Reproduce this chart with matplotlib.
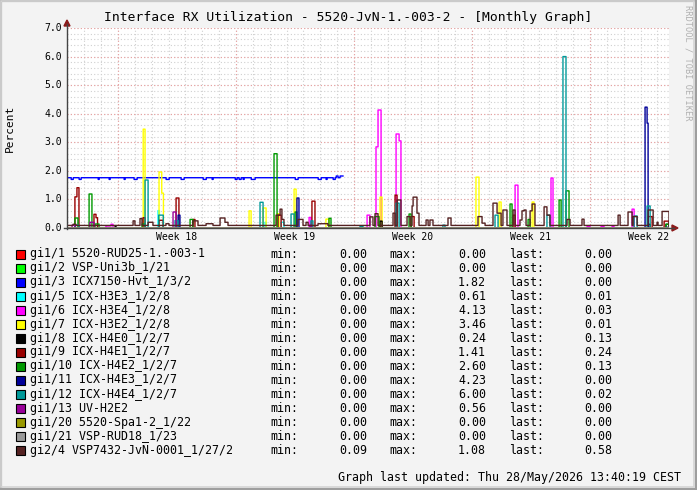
import numpy as np
import matplotlib
matplotlib.use('Agg')
from matplotlib import pyplot as plt
from matplotlib.patches import Rectangle, Polygon

W, H = 697, 490
MONO = 'DejaVu Sans Mono'

# time axis: days counted from the left edge of the graph
t_end = 35.71
week_starts = [3.025, 10.025, 17.025, 24.025, 31.025]
week_names = ['Week 18', 'Week 19', 'Week 20', 'Week 21', 'Week 22']
y_ticks = [0, 1, 2, 3, 4, 5, 6, 7]

names = ['gi1/1 5520-RUD25-1.-003-1', 'gi1/2 VSP-Uni3b_1/21', 'gi1/3 ICX7150-Hvt_1/3/2',
         'gi1/5 ICX-H3E3_1/2/8', 'gi1/6 ICX-H3E4_1/2/8', 'gi1/7 ICX-H3E2_1/2/8',
         'gi1/8 ICX-H4E0_1/2/7', 'gi1/9 ICX-H4E1_1/2/7', 'gi1/10 ICX-H4E2_1/2/7',
         'gi1/11 ICX-H4E3_1/2/7', 'gi1/12 ICX-H4E4_1/2/7', 'gi1/13 UV-H2E2',
         'gi1/20 5520-Spa1-2_1/22', 'gi1/21 VSP-RUD18_1/23', 'gi2/4 VSP7432-JvN-0001_1/27/2']
colors = ['#ff0000', '#00ff00', '#0000ff', '#00ffff', '#ff00ff', '#ffff00', '#000000', '#990000',
          '#009900', '#000099', '#009999', '#990099', '#999900', '#999999', '#552222']
mins = [0.00, 0.00, 0.00, 0.00, 0.00, 0.00, 0.00, 0.00, 0.00, 0.00, 0.00, 0.00, 0.00, 0.00, 0.09]
maxs = [0.00, 0.00, 1.82, 0.61, 4.13, 3.46, 0.24, 1.41, 2.60, 4.23, 6.00, 0.56, 0.00, 0.00, 1.08]
lasts = [0.00, 0.00, 0.00, 0.01, 0.03, 0.01, 0.13, 0.24, 0.13, 0.00, 0.02, 0.00, 0.00, 0.00, 0.58]

# each series: (from_day, to_day, percent) segments over a base level
gi1_1 = []
gi1_2 = []
gi1_3 = [(0.24, 0.36, 1.70), (0.71, 0.83, 1.70), (1.84, 1.90, 1.70), (2.49, 2.55, 1.70),
         (3.38, 3.44, 1.70), (3.97, 4.15, 1.70), (5.87, 6.05, 1.70), (6.76, 6.94, 1.70),
         (8.07, 8.25, 1.70), (8.60, 8.66, 1.70), (9.97, 10.08, 1.70), (10.20, 10.32, 1.70),
         (10.44, 10.50, 1.70), (10.92, 11.15, 1.70), (13.53, 13.70, 1.70), (14.89, 15.07, 1.70),
         (15.36, 15.42, 1.70), (15.78, 15.90, 1.70), (15.96, 16.07, 1.82), (16.19, 16.37, 1.82)]
gi1_5 = [(5.40, 5.48, 0.61), (11.75, 11.81, 0.20), (12.70, 12.87, 0.20), (35.53, 35.71, 0.01)]
gi1_6 = [(2.31, 2.61, 0.07), (2.61, 2.73, 0.13), (14.36, 14.47, 0.37), (17.80, 17.97, 0.45),
         (18.33, 18.45, 2.84), (18.45, 18.63, 4.13), (19.52, 19.70, 3.29), (19.70, 19.81, 3.05),
         (26.58, 26.75, 1.50), (28.71, 28.83, 1.75), (30.85, 31.03, 0.05), (31.68, 31.86, 0.05),
         (32.33, 32.45, 0.05), (33.52, 33.64, 0.66), (35.53, 35.71, 0.03)]
gi1_7 = [(4.52, 4.63, 3.46), (5.46, 5.62, 1.96), (5.62, 5.72, 1.22), (10.80, 10.92, 0.60),
         (11.63, 11.81, 0.70), (12.46, 12.58, 0.50), (13.47, 13.59, 1.36), (15.36, 15.54, 0.31),
         (18.57, 18.69, 1.08), (24.26, 24.44, 1.78), (25.63, 25.75, 0.91), (27.59, 27.70, 0.91),
         (35.53, 35.71, 0.01)]
gi1_8 = [(2.85, 2.91, 0.05), (18.57, 18.69, 0.24), (34.47, 34.59, 0.13), (35.53, 35.71, 0.13)]
gi1_9 = [(0.47, 0.59, 1.09), (0.59, 0.71, 1.41), (1.60, 1.72, 0.48), (1.72, 1.81, 0.36),
         (4.51, 4.63, 0.36), (5.46, 5.70, 0.27), (6.47, 6.64, 1.05), (7.47, 7.59, 0.30),
         (12.52, 12.70, 0.45), (14.53, 14.71, 0.94), (19.46, 19.58, 1.15), (20.41, 20.59, 0.40),
         (26.46, 26.58, 0.45), (34.47, 34.71, 0.40), (35.42, 35.71, 0.24)]
gi1_10 = [(0.47, 0.65, 0.35), (1.31, 1.48, 1.19), (1.66, 1.90, 0.14), (4.45, 4.63, 0.14),
          (7.30, 7.47, 0.30), (12.28, 12.46, 2.60), (13.53, 13.64, 0.56), (15.54, 15.66, 0.34),
          (18.27, 18.51, 0.40), (20.29, 20.41, 0.49), (26.28, 26.40, 0.84), (27.35, 27.47, 0.30),
          (29.19, 29.31, 0.98), (29.60, 29.78, 1.30), (35.53, 35.71, 0.13)]
gi1_11 = [(6.59, 6.70, 0.45), (13.64, 13.76, 1.05), (34.29, 34.41, 4.23), (34.41, 34.47, 3.67)]
gi1_12 = [(0.47, 0.71, 0.10), (4.63, 4.81, 1.68), (5.44, 5.71, 0.45), (6.41, 6.59, 0.26),
          (11.45, 11.63, 0.90), (13.29, 13.47, 0.49), (14.47, 14.59, 0.25), (17.38, 17.56, 0.05),
          (19.52, 19.70, 0.87), (22.30, 22.42, 0.10), (25.39, 25.57, 0.45), (28.47, 28.65, 0.45),
          (29.42, 29.60, 6.00), (33.64, 33.82, 0.42), (34.41, 34.59, 0.77), (35.53, 35.71, 0.02)]
gi1_13 = [(0.30, 0.47, 0.10), (1.36, 1.60, 0.20), (6.29, 6.47, 0.56), (14.41, 14.50, 0.10)]
gi1_20 = []
gi1_21 = []
gi2_4 = [(0.36, 0.53, 0.13), (3.92, 4.03, 0.25), (4.33, 4.45, 0.33), (4.81, 5.10, 0.20),
         (5.87, 6.05, 0.15), (7.47, 7.77, 0.25), (8.25, 8.66, 0.15), (9.08, 9.37, 0.35),
         (9.37, 9.55, 0.20), (12.40, 12.52, 0.45), (12.52, 12.64, 0.45), (12.64, 12.75, 0.66),
         (12.75, 12.87, 0.30), (13.70, 14.00, 0.30), (14.18, 14.30, 0.20), (14.89, 15.48, 0.15),
         (17.97, 18.15, 0.39), (18.27, 18.45, 0.50), (19.34, 19.46, 0.52), (19.58, 19.81, 0.98),
         (20.17, 20.35, 0.40), (20.47, 20.53, 0.77), (20.53, 20.76, 1.08), (20.76, 20.88, 0.52),
         (21.30, 21.42, 0.28), (21.53, 21.71, 0.28), (22.60, 22.78, 0.35), (24.38, 24.62, 0.40),
         (24.62, 24.80, 0.17), (25.27, 25.51, 0.87), (25.51, 25.75, 0.52), (25.86, 26.10, 0.63),
         (26.46, 26.58, 0.63), (26.87, 26.99, 0.28), (26.99, 27.11, 0.60), (27.11, 27.23, 0.63),
         (27.47, 27.59, 0.60), (27.59, 27.76, 0.84), (28.30, 28.47, 0.74), (28.47, 28.65, 0.45),
         (29.66, 29.84, 0.30), (30.55, 30.67, 0.31), (32.69, 32.81, 0.45), (33.28, 33.52, 0.56),
         (33.58, 33.82, 0.40), (34.47, 34.77, 0.63), (35.00, 35.06, 0.20), (35.30, 35.71, 0.58)]

segments = [gi1_1, gi1_2, gi1_3, gi1_5, gi1_6, gi1_7, gi1_8, gi1_9,
            gi1_10, gi1_11, gi1_12, gi1_13, gi1_20, gi1_21, gi2_4]
base_levels = [0, 0, 1.76, 0, 0, 0, 0, 0, 0, 0, 0, 0, 0, 0, 0.09]
spans = [(0, t_end)] * 15
spans[2] = (0.06, 16.37)


def build(segs, base, t0, t1):
    t = np.arange(t0, t1 + 0.005, 0.01)
    v = np.full_like(t, base)
    for s, e, val in segs:
        v[(t >= s) & (t < e)] = val
    return t, v


def fx(x):
    return x / W


def fy(y):
    return 1 - y / H


fig = plt.figure(figsize=(W / 100, H / 100), dpi=100)
fig.patch.set_facecolor('#f3f3f3')

# 3d-ish frame around the canvas
fig.add_artist(Rectangle((0, 0), 1, 1, transform=fig.transFigure, fill=False,
                         edgecolor='#9e9e9e', lw=3))
fig.add_artist(Rectangle((fx(1), fy(H - 3)), fx(W - 4), fy(0) - fy(H - 3) - 0.003,
                         transform=fig.transFigure, fill=False, edgecolor='#d4d4d4', lw=1.2))

ax = fig.add_axes([fx(67), fy(228), fx(602), fy(28) - fy(228)])
ax.set_facecolor('white')
ax.set_xlim(0, t_end)
ax.set_ylim(0, 7)

# grid: days / 0.2 minor, weeks / 1.0 major
for d in np.arange(week_starts[0] - 3, t_end, 1.0):
    ax.axvline(d, color='#d0d0d0', lw=0.8, ls=(0, (1, 2)), zorder=0)
for y in np.arange(0.2, 7.01, 0.2):
    ax.axhline(y, color='#d0d0d0', lw=0.8, ls=(0, (1, 2)), zorder=0)
for d in week_starts:
    ax.axvline(d, color='#eba0a0', lw=0.8, ls=(0, (1, 2)), zorder=0)
for y in y_ticks[1:]:
    ax.axhline(y, color='#eba0a0', lw=0.8, ls=(0, (1, 2)), zorder=0)

for segs, base, (t0, t1), c in zip(segments, base_levels, spans, colors):
    t, v = build(segs, base, t0, t1)
    ax.step(t, v, where='post', color=c, lw=1.0, zorder=2)

for s in ax.spines.values():
    s.set_visible(False)
ax.set_xticks([])
ax.set_yticks([])

# axes lines with arrow heads
fig.add_artist(plt.Line2D([fx(67), fx(67)], [fy(229), fy(24)], transform=fig.transFigure,
                          color='#444444', lw=1.0))
fig.add_artist(plt.Line2D([fx(64), fx(674)], [fy(228), fy(228)], transform=fig.transFigure,
                          color='#444444', lw=1.0))
fig.add_artist(Polygon([(fx(64), fy(26)), (fx(70), fy(26)), (fx(67), fy(20))],
                       transform=fig.transFigure, color='#8b1a1a'))
fig.add_artist(Polygon([(fx(672), fy(225)), (fx(672), fy(231)), (fx(678), fy(228))],
                       transform=fig.transFigure, color='#8b1a1a'))

for v in y_ticks:
    ax.text(-0.008, v, '%.1f' % v, transform=ax.get_yaxis_transform(), ha='right', va='center',
            fontsize=7, family=MONO)
for d, lab in zip(week_starts, week_names):
    fig.text(fx(67 + (d + 3.5) * 602 / t_end), fy(237), lab, ha='center', va='center',
             fontsize=7, family=MONO)

fig.text(0.5, fy(18), 'Interface RX Utilization - 5520-JvN-1.-003-2 - [Monthly Graph]',
         ha='center', va='center', fontsize=9.4, family=MONO)
fig.text(fx(10), fy(128), 'Percent', rotation=90, ha='center', va='center', fontsize=8,
         family=MONO)
fig.text(fx(688), fy(5), 'RRDTOOL / TOBI OETIKER', rotation=-90, ha='center', va='top',
         fontsize=6.2, family=MONO, color='#b0b0b0')

# legend table
for i, (n, c) in enumerate(zip(names, colors)):
    yc = 254 + 14 * i
    fig.add_artist(Rectangle((fx(16), fy(yc + 4.5)), fx(9), fy(0) - fy(9),
                             transform=fig.transFigure, facecolor=c, edgecolor='black', lw=0.8))
    kw = dict(va='center', fontsize=8.4, family=MONO)
    fig.text(fx(30), fy(yc), n, ha='left', **kw)
    fig.text(fx(270), fy(yc), 'min:', ha='left', **kw)
    fig.text(fx(367), fy(yc), '%.2f' % mins[i], ha='right', **kw)
    fig.text(fx(389), fy(yc), 'max:', ha='left', **kw)
    fig.text(fx(486), fy(yc), '%.2f' % maxs[i], ha='right', **kw)
    fig.text(fx(509), fy(yc), 'last:', ha='left', **kw)
    fig.text(fx(612), fy(yc), '%.2f' % lasts[i], ha='right', **kw)

fig.text(fx(681), fy(477), 'Graph last updated: Thu 28/May/2026 13:40:19 CEST', ha='right',
         va='center', fontsize=8.4, family=MONO)

fig.savefig('out.png', dpi=100, facecolor=fig.get_facecolor())
